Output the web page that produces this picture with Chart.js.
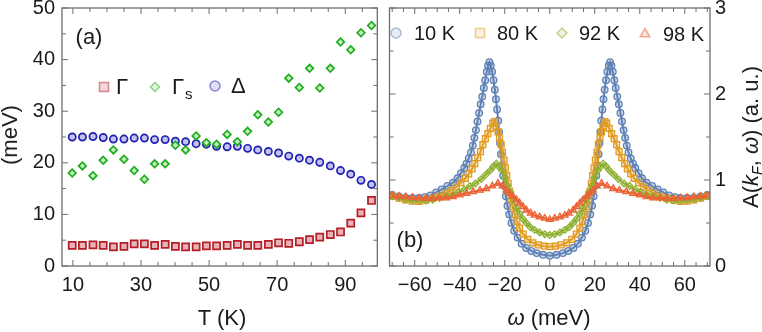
<!DOCTYPE html>
<html>
<head>
<meta charset="utf-8">
<script src="https://cdn.jsdelivr.net/npm/chart.js@4.4.1/dist/chart.umd.min.js"></script>
<style>
  body { margin: 0; background: #fff; }
  #fig { position: relative; width: 762px; height: 332px; overflow: hidden; font-family: 'Liberation Sans', Arial, sans-serif; color: #1a1a1a; }
  #fig canvas { position: absolute; top: 0; }
  .t { position: absolute; white-space: nowrap; transform: translate(-50%, -50%); font-size: 22px; line-height: 1; }
  .rot { transform: translate(-50%, -50%) rotate(-90deg); }
  sub { font-size: 0.65em; vertical-align: -0.3em; line-height: 0; }
</style>
</head>
<body>
<div id="fig">
  <canvas id="chartA" width="384" height="332" style="left:0"></canvas>
  <canvas id="chartB" width="378" height="332" style="left:384px"></canvas>
  <div class="t rot" style="left:10px;top:135px">(meV)</div>
  <div class="t" style="left:222px;top:318px">T (K)</div>
  <div class="t" style="left:549px;top:318px"><i>ω</i> (meV)</div>
  <div class="t rot" style="left:751px;top:137px">A(<i>k<sub>F</sub></i>, <i>ω</i>) (a. u.)</div>
  <div class="t" style="left:89px;top:37px">(a)</div>
  <div class="t" style="left:410px;top:240px">(b)</div>
</div>
<script>
// ---- panel (a): fit parameters against temperature
const temps = [9.8, 12.8, 15.9, 18.9, 21.9, 25.0, 28.0, 31.0, 34.0, 37.1, 40.1, 43.1, 46.2, 49.2, 52.2,
               55.3, 58.3, 61.3, 64.3, 67.4, 70.4, 73.4, 76.5, 79.5, 82.5, 85.6, 88.6, 91.6, 94.6, 97.7];
const gamma = [4.0, 4.0, 4.1, 4.0, 3.7, 3.8, 4.3, 4.3, 4.0, 4.2, 3.8, 3.7, 3.7, 3.9, 3.9,
               4.0, 4.2, 4.0, 4.0, 4.2, 4.5, 4.4, 4.7, 5.1, 5.6, 6.1, 6.6, 8.3, 10.3, 12.7];
const gammaS = [18.0, 19.4, 17.5, 20.5, 22.5, 20.7, 18.5, 16.8, 19.8, 19.8, 23.4, 22.5, 25.2, 23.9, 23.6,
                25.5, 24.1, 26.1, 29.3, 27.9, 29.8, 36.4, 34.6, 38.3, 34.5, 38.3, 43.4, 41.9, 45.2, 46.6];
const delta = [25.0, 25.0, 25.1, 24.9, 24.6, 24.6, 24.8, 24.8, 24.5, 24.5, 24.2, 24.1, 23.7, 23.6, 23.2,
               23.1, 23.2, 22.8, 22.5, 22.2, 21.9, 21.3, 20.9, 20.5, 20.1, 19.4, 18.5, 17.8, 16.6, 15.8];

const aXTicks = [10, 15, 20, 25, 30, 35, 40, 45, 50, 55, 60, 65, 70, 75, 80, 85, 90, 95];
const aXLabels = [10, 30, 50, 70, 90];
const aYTicks = [0, 5, 10, 15, 20, 25, 30, 35, 40, 45, 50];
const aYLabels = [0, 10, 20, 30, 40, 50];

// ---- panel (b): A(kF, w) at four temperatures
const w10 = [-70, -67, -64, -61, -58, -55.5, -53, -50.5, -48, -45.5, -43, -41, -39.5, -38, -37, -36, -35, -34.2,
  -33.5, -32.8, -32.1, -31.4, -30.7, -30, -29.3, -28.7, -28, -27.4, -26.8, -26.2, -25.6, -25, -24.4, -23.9,
  -23.4, -22.9, -22.5, -22.1, -21.7, -21.2, -20.7, -20.1, -19.5, -18.8, -18, -17, -15.8, -14.3, -12.5, -10.5,
  -8.2, -5.8, -3, 0, 3, 5.8, 8.2, 10.5, 12.5, 14.3, 15.8, 17, 18, 18.8, 19.5, 20.1, 20.7, 21.2, 21.7, 22.1,
  22.5, 22.9, 23.4, 23.9, 24.4, 25, 25.6, 26.2, 26.8, 27.4, 28, 28.7, 29.3, 30, 30.7, 31.4, 32.1, 32.8, 33.5,
  34.2, 35, 36, 37, 38, 39.5, 41, 43, 45.5, 48, 50.5, 53, 55.5, 58, 61, 64, 67, 70];
const a10 = [0.825, 0.81, 0.795, 0.79, 0.79, 0.80, 0.82, 0.855, 0.89, 0.93, 0.97, 1.02, 1.08, 1.14, 1.19, 1.25, 1.32, 1.40,
  1.49, 1.58, 1.68, 1.78, 1.88, 1.97, 2.07, 2.16, 2.26, 2.33, 2.37, 2.33, 2.26, 2.16, 2.05, 1.94,
  1.82, 1.69, 1.56, 1.43, 1.30, 1.17, 1.05, 0.93, 0.81, 0.70, 0.60, 0.50, 0.41, 0.33, 0.26, 0.21,
  0.175, 0.15, 0.13, 0.12, 0.13, 0.15, 0.175, 0.21, 0.26, 0.33, 0.41, 0.50, 0.60, 0.70, 0.81, 0.93, 1.05, 1.17, 1.30, 1.43,
  1.56, 1.69, 1.82, 1.94, 2.05, 2.16, 2.26, 2.33, 2.37, 2.33, 2.26, 2.16, 2.07, 1.97, 1.88, 1.78, 1.68, 1.58, 1.49,
  1.40, 1.32, 1.25, 1.19, 1.14, 1.08, 1.02, 0.97, 0.93, 0.89, 0.855, 0.82, 0.80, 0.79, 0.79, 0.795, 0.81, 0.825];

const w80 = [-70, -67, -64, -61, -58, -55, -52, -49, -46.5, -44, -41.5, -39.5, -37.5, -36, -34.5, -33.3, -32, -30.8,
  -29.7, -28.6, -27.5, -26.4, -25.3, -24.5, -23.7, -23, -22.3, -21.6, -21, -20.3, -19.7, -19.1, -18.5, -17.9,
  -17.2, -16.4, -15.6, -14.6, -13.4, -11.8, -9.8, -7.5, -5, -2.5, 0, 2.5, 5, 7.5, 9.8, 11.8, 13.4, 14.6, 15.6,
  16.4, 17.2, 17.9, 18.5, 19.1, 19.7, 20.3, 21, 21.6, 22.3, 23, 23.7, 24.5, 25.3, 26.4, 27.5, 28.6, 29.7, 30.8,
  32, 33.3, 34.5, 36, 37.5, 39.5, 41.5, 44, 46.5, 49, 52, 55, 58, 61, 64, 67, 70];
const a80 = [0.81, 0.79, 0.77, 0.755, 0.75, 0.765, 0.785, 0.81, 0.845, 0.88, 0.92, 0.97, 1.02, 1.07, 1.13, 1.19, 1.26, 1.33,
  1.41, 1.48, 1.54, 1.60, 1.66, 1.68, 1.62, 1.56, 1.49, 1.41, 1.32, 1.23, 1.14, 1.05, 0.96, 0.87,
  0.78, 0.69, 0.60, 0.52, 0.44, 0.37, 0.31, 0.27, 0.245, 0.23, 0.225, 0.23, 0.245, 0.27, 0.31, 0.37, 0.44, 0.52, 0.60,
  0.69, 0.78, 0.87, 0.96, 1.05, 1.14, 1.23, 1.32, 1.41, 1.49, 1.56, 1.62, 1.68, 1.66, 1.60, 1.54, 1.48, 1.41, 1.33,
  1.26, 1.19, 1.13, 1.07, 1.02, 0.97, 0.92, 0.88, 0.845, 0.81, 0.785, 0.765, 0.75, 0.755, 0.77, 0.79, 0.81];

const w92 = [-70, -67, -64, -61, -58, -55, -52, -49, -46, -43, -40.5, -38, -35.5, -33, -30.5, -28.5, -26.5, -25,
  -23.7, -22.5, -21.3, -20, -18.8, -17.5, -16.2, -14.8, -13.4, -12, -10.4, -8.6, -6.7, -4.5, -2.2, 0,
  2.2, 4.5, 6.7, 8.6, 10.4, 12, 13.4, 14.8, 16.2, 17.5, 18.8, 20, 21.3, 22.5, 23.7, 25, 26.5, 28.5, 30.5,
  33, 35.5, 38, 40.5, 43, 46, 49, 52, 55, 58, 61, 64, 67, 70];
const a92 = [0.81, 0.79, 0.775, 0.765, 0.76, 0.76, 0.77, 0.79, 0.81, 0.83, 0.86, 0.89, 0.93, 0.96, 1.01, 1.06, 1.11, 1.16,
  1.19, 1.15, 1.11, 1.03, 0.94, 0.86, 0.77, 0.68, 0.61, 0.55, 0.50, 0.45, 0.42, 0.39, 0.37, 0.36,
  0.37, 0.39, 0.42, 0.45, 0.50, 0.55, 0.61, 0.68, 0.77, 0.86, 0.94, 1.03, 1.11, 1.15, 1.19, 1.16, 1.11, 1.06, 1.01,
  0.96, 0.93, 0.89, 0.86, 0.83, 0.81, 0.79, 0.77, 0.76, 0.76, 0.765, 0.775, 0.79, 0.81];

const w98 = [-70, -67, -64, -61, -58, -55, -52, -49, -46, -43, -40, -37, -34, -31, -28.2, -25.5, -23, -21,
  -19.3, -17.8, -16.3, -14.8, -13.4, -11.9, -10.4, -8.5, -6.7, -4.5, -2.2, 0, 2.2, 4.5, 6.7, 8.5, 10.4,
  11.9, 13.4, 14.8, 16.3, 17.8, 19.3, 21, 23, 25.5, 28.2, 31, 34, 37, 40, 43, 46, 49, 52, 55, 58, 61, 64, 67, 70];
const a98 = [0.82, 0.81, 0.805, 0.795, 0.79, 0.785, 0.785, 0.79, 0.79, 0.805, 0.825, 0.845, 0.865, 0.88, 0.90, 0.93, 0.96, 0.93,
  0.88, 0.845, 0.81, 0.77, 0.73, 0.69, 0.65, 0.615, 0.59, 0.57, 0.555, 0.54, 0.555, 0.57, 0.59, 0.615, 0.65,
  0.69, 0.73, 0.77, 0.81, 0.845, 0.88, 0.93, 0.96, 0.93, 0.90, 0.88, 0.865, 0.845, 0.825, 0.805, 0.79, 0.79, 0.785, 0.785, 0.79, 0.795, 0.805, 0.81, 0.82];

const bXTicks = [-70, -65, -60, -55, -50, -45, -40, -35, -30, -25, -20, -15, -10, -5, 0,
                 5, 10, 15, 20, 25, 30, 35, 40, 45, 50, 55, 60, 65, 70];
const bXLabels = [-60, -40, -20, 0, 20, 40, 60];
const bYTicks = [0, 0.5, 1, 1.5, 2, 2.5, 3];
const bYLabels = [0, 1, 2, 3];

Chart.defaults.font.family = "'Liberation Sans', Arial, sans-serif";
Chart.defaults.color = '#1a1a1a';

const pts = (xs, ys) => xs.map((x, i) => ({ x: x, y: ys[i] }));

// frame with inward ticks on all four sides
function framePlugin(xTicks, xMajor, yTicks, yMajor) {
  return {
    id: 'frame',
    afterDatasetsDraw(chart) {
      const { ctx, chartArea: a } = chart;
      const sx = chart.scales.x, sy = chart.scales.y;
      ctx.save();
      ctx.strokeStyle = '#6e6e6e';
      ctx.lineWidth = 1.3;
      ctx.strokeRect(a.left, a.top, a.right - a.left, a.bottom - a.top);
      ctx.beginPath();
      xTicks.forEach(v => {
        const px = sx.getPixelForValue(v);
        const len = xMajor.includes(v) ? 6 : 4;
        ctx.moveTo(px, a.bottom); ctx.lineTo(px, a.bottom - len);
        ctx.moveTo(px, a.top); ctx.lineTo(px, a.top + len);
      });
      yTicks.forEach(v => {
        const py = sy.getPixelForValue(v);
        const len = yMajor.includes(v) ? 6 : 4;
        ctx.moveTo(a.left, py); ctx.lineTo(a.left + len, py);
        ctx.moveTo(a.right, py); ctx.lineTo(a.right - len, py);
      });
      ctx.lineWidth = 1;
      ctx.stroke();
      ctx.restore();
    }
  };
}

function marker(ctx, style, x, y, r) {
  ctx.beginPath();
  if (style === 'circle') ctx.arc(x, y, r, 0, Math.PI * 2);
  else if (style === 'rect') ctx.rect(x - r, y - r, 2 * r, 2 * r);
  else if (style === 'rectRot') { ctx.moveTo(x, y - r); ctx.lineTo(x + r, y); ctx.lineTo(x, y + r); ctx.lineTo(x - r, y); ctx.closePath(); }
  else if (style === 'triangle') { ctx.moveTo(x, y - r); ctx.lineTo(x + r * 0.87, y + r * 0.5); ctx.lineTo(x - r * 0.87, y + r * 0.5); ctx.closePath(); }
  ctx.fill();
  ctx.stroke();
}

// legend drawn inside the plot, markers a bit paler than the data
function legendPlugin(items, size) {
  return {
    id: 'inLegend',
    afterDraw(chart) {
      const ctx = chart.ctx;
      ctx.save();
      items.forEach(it => {
        const ds = chart.data.datasets[it.ds];
        ctx.globalAlpha = 0.5;
        ctx.fillStyle = ds.pointBackgroundColor;
        ctx.strokeStyle = ds.pointBorderColor;
        ctx.lineWidth = 1.5;
        marker(ctx, it.style, it.x, it.y, it.r);
        ctx.globalAlpha = 1;
        ctx.fillStyle = '#1a1a1a';
        ctx.textBaseline = 'middle';
        ctx.font = size + "px 'Liberation Sans', Arial, sans-serif";
        ctx.fillText(it.text, it.tx, it.y + 1);
        if (it.sub) {
          const wd = ctx.measureText(it.text).width;
          ctx.font = Math.round(size * 0.68) + "px 'Liberation Sans', Arial, sans-serif";
          ctx.fillText(it.sub, it.tx + wd + 1, it.y + 8);
        }
      });
      ctx.restore();
    }
  };
}

const tickFont = { size: 20 };

new Chart(document.getElementById('chartA'), {
  type: 'scatter',
  data: {
    datasets: [
      { label: 'Γ', data: pts(temps, gamma), pointStyle: 'rect', pointRadius: 5,
        pointBackgroundColor: '#e7b3b8', pointBorderColor: '#b41d24', pointBorderWidth: 1.7, order: 2 },
      { label: 'Γs', data: pts(temps, gammaS), pointStyle: 'rectRot', pointRadius: 3.8,
        pointBackgroundColor: '#c8efc3', pointBorderColor: '#1eae1e', pointBorderWidth: 1.7, order: 0 },
      { label: 'Δ', data: pts(temps, delta), pointStyle: 'circle', pointRadius: 3.6,
        pointBackgroundColor: '#c2c2ec', pointBorderColor: '#2020b2', pointBorderWidth: 1.7, order: 1 }
    ]
  },
  options: {
    responsive: false, animation: false, events: [],
    layout: { padding: { top: 8, right: 2, left: 0, bottom: 0 } },
    plugins: { legend: { display: false }, tooltip: { enabled: false } },
    scales: {
      x: {
        type: 'linear', min: 6.8, max: 99.4,
        grid: { display: false, drawTicks: false }, border: { display: false },
        ticks: { font: tickFont, padding: 7, maxRotation: 0 },
        afterBuildTicks: s => { s.ticks = aXLabels.map(v => ({ value: v })); },
        afterFit: s => { s.height = 66; s.paddingLeft = 0; s.paddingRight = 0; }
      },
      y: {
        type: 'linear', min: 0, max: 50,
        grid: { display: false, drawTicks: false }, border: { display: false },
        ticks: { font: tickFont, padding: 7 },
        afterBuildTicks: s => { s.ticks = aYLabels.map(v => ({ value: v })); },
        afterFit: s => { s.width = 62; s.paddingTop = 0; s.paddingBottom = 0; }
      }
    }
  },
  plugins: [
    framePlugin(aXTicks, aXLabels, aYTicks, aYLabels),
    legendPlugin([
      { ds: 0, style: 'rect', x: 104, y: 87, r: 4.5, text: 'Γ', tx: 116 },
      { ds: 1, style: 'rectRot', x: 155, y: 87, r: 4.5, text: 'Γ', sub: 's', tx: 172 },
      { ds: 2, style: 'circle', x: 215, y: 86, r: 5, text: 'Δ', tx: 231 }
    ], 22)
  ]
});

const series = (label, xs, ys, color, fill, style, r, order) => ({
  label: label, data: pts(xs, ys), showLine: true, borderColor: color, borderWidth: 2,
  pointStyle: style, pointRadius: r, pointBackgroundColor: fill, pointBorderColor: color,
  pointBorderWidth: 1.3, order: order
});

new Chart(document.getElementById('chartB'), {
  type: 'scatter',
  data: {
    datasets: [
      series('10 K', w10, a10, '#5e81b5', 'rgba(94,129,181,0.3)', 'circle', 3.3, 3),
      series('80 K', w80, a80, '#e19c24', 'rgba(225,156,36,0.3)', 'rect', 4.2, 2),
      series('92 K', w92, a92, '#8fb032', 'rgba(143,176,50,0.3)', 'rectRot', 3.3, 1),
      series('98 K', w98, a98, '#eb6235', 'rgba(235,98,53,0.3)', 'triangle', 3.8, 0)
    ]
  },
  options: {
    responsive: false, animation: false, events: [],
    layout: { padding: { top: 8, right: 0, left: 3, bottom: 0 } },
    plugins: { legend: { display: false }, tooltip: { enabled: false } },
    scales: {
      x: {
        type: 'linear', min: -71.2, max: 71.2,
        grid: { display: false, drawTicks: false }, border: { display: false },
        ticks: { font: tickFont, padding: 7, maxRotation: 0,
                 callback: v => (v < 0 ? '\u2212' + Math.abs(v) : '' + v) },
        afterBuildTicks: s => { s.ticks = bXLabels.map(v => ({ value: v })); },
        afterFit: s => { s.height = 66; s.paddingLeft = 0; s.paddingRight = 0; }
      },
      y: {
        type: 'linear', position: 'right', min: 0, max: 3,
        grid: { display: false, drawTicks: false }, border: { display: false },
        ticks: { font: tickFont, padding: 5 },
        afterBuildTicks: s => { s.ticks = bYLabels.map(v => ({ value: v })); },
        afterFit: s => { s.width = 52; s.paddingTop = 0; s.paddingBottom = 0; }
      }
    }
  },
  plugins: [
    framePlugin(bXTicks, bXLabels, bYTicks, bYLabels),
    legendPlugin([
      { ds: 0, style: 'circle', x: 12, y: 33, r: 5, text: '10 K', tx: 30 },
      { ds: 1, style: 'rect', x: 96, y: 33, r: 4.5, text: '80 K', tx: 113 },
      { ds: 2, style: 'rectRot', x: 178, y: 33, r: 5, text: '92 K', tx: 195 },
      { ds: 3, style: 'triangle', x: 261, y: 34, r: 5.5, text: '98 K', tx: 279 }
    ], 20)
  ]
});
</script>
</body>
</html>
